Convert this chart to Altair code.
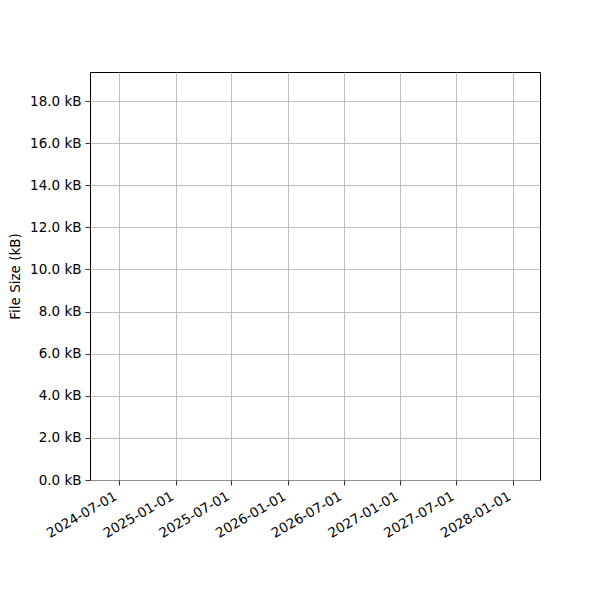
import altair as alt
import pandas as pd

# Series (the reference chart shows no visible data points)
dates = []
sizes_kb = []

x_tick_dates = ["2024-07-01", "2025-01-01", "2025-07-01", "2026-01-01",
                "2026-07-01", "2027-01-01", "2027-07-01", "2028-01-01"]
x_domain = ["2024-03-29", "2028-03-29"]
y_ticks = [0, 2, 4, 6, 8, 10, 12, 14, 16, 18]
y_domain = [0, 19.38]

df = pd.DataFrame({"date": pd.to_datetime(pd.Series(dates, dtype="object")),
                   "size": pd.Series(sizes_kb, dtype="float")})

font = "DejaVu Sans"

chart = alt.Chart(df).mark_line(color="#1f77b4").encode(
    x=alt.X("date:T",
            scale=alt.Scale(domain=x_domain, nice=False),
            axis=alt.Axis(values=x_tick_dates, format="%Y-%m-%d", labelAngle=330,
                          labelAlign="right", labelBaseline="bottom", labelPadding=16,
                          labelOverlap=False, labelFlush=False,
                          title=None, grid=True)),
    y=alt.Y("size:Q",
            scale=alt.Scale(domain=y_domain, nice=False, zero=True),
            axis=alt.Axis(values=y_ticks,
                          labelExpr="format(datum.value, '.1f') + ' kB'",
                          labelOverlap=False, labelFlush=False, labelPadding=4,
                          title="File Size (kB)", titlePadding=7, grid=True)),
).properties(
    width=450, height=408,
    autosize=alt.AutoSizeParams(type="none"),
    padding={"left": 82, "top": 64, "right": 52, "bottom": 104},
).configure_view(
    stroke="black", strokeWidth=1,
).configure_axis(
    labelFont=font, titleFont=font, labelFontSize=13.5, titleFontSize=13.5,
    labelColor="black", titleColor="black", titleFontWeight="normal",
    gridColor="#b0b0b0", gridWidth=0.8, gridOpacity=1,
    tickColor="black", tickSize=5, tickWidth=0.8,
    domain=False,
)

chart.save("out.html", embed_options={"renderer": "svg", "actions": False})
